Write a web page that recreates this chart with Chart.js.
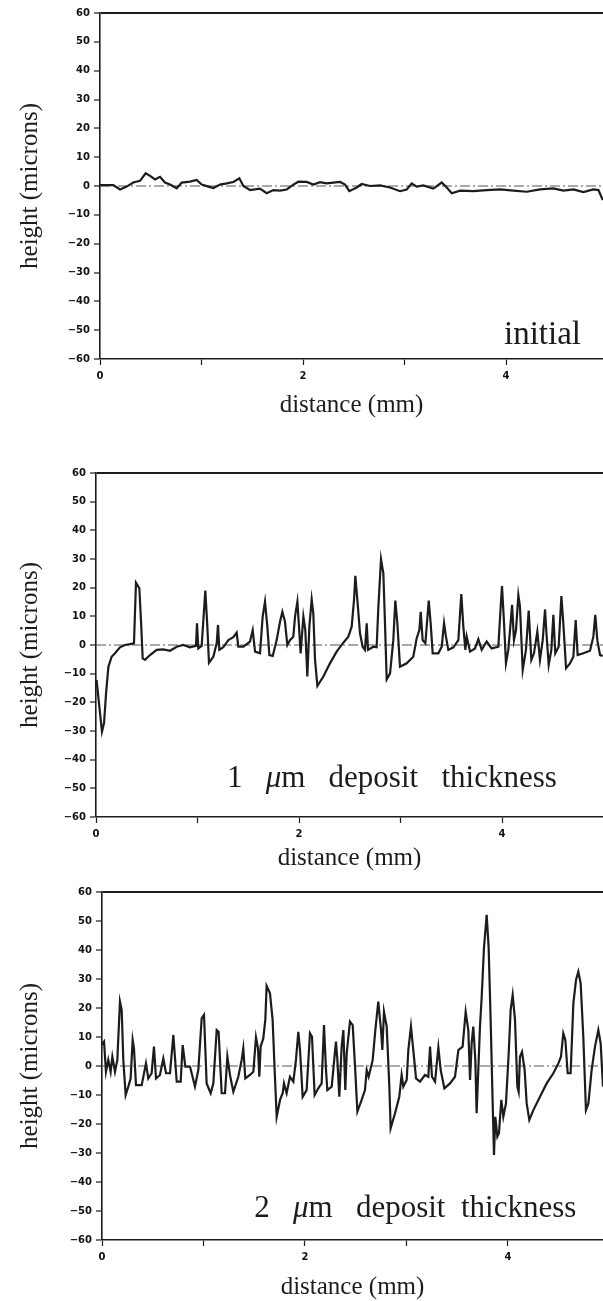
<!DOCTYPE html>
<html>
<head>
<meta charset="utf-8">
<title>Surface profiles</title>
<script src="https://cdn.jsdelivr.net/npm/chart.js@4.4.1/dist/chart.umd.min.js"></script>
<style>
  html, body { margin: 0; padding: 0; background: #fff; overflow: hidden; }
  body { width: 603px; height: 1301px; position: relative; }
  .panel { position: absolute; left: 0; width: 603px; }
</style>
</head>
<body>
<div class="panel" id="p1" style="top:0px;height:430px"><canvas id="c1" width="603" height="430"></canvas></div>
<div class="panel" id="p2" style="top:440px;height:440px"><canvas id="c2" width="603" height="440"></canvas></div>
<div class="panel" id="p3" style="top:880px;height:430px"><canvas id="c3" width="603" height="430"></canvas></div>
<script>
// profile traces, distance in mm, height in microns
const initialX = [
  0, 0.131, 0.197, 0.263, 0.328, 0.394, 0.450, 0.493, 0.542, 0.591,
  0.640, 0.690, 0.755, 0.805, 0.887, 0.952, 1.002, 1.067, 1.117, 1.182,
  1.248, 1.314, 1.373, 1.412, 1.478, 1.576, 1.642, 1.708, 1.773, 1.839,
  1.905, 1.954, 2.036, 2.102, 2.167, 2.233, 2.299, 2.365, 2.414, 2.456,
  2.529, 2.578, 2.660, 2.759, 2.857, 2.956, 3.021, 3.071, 3.120, 3.185,
  3.284, 3.366, 3.416, 3.465, 3.547, 3.678, 3.810, 3.941, 4.072, 4.204,
  4.335, 4.466, 4.565, 4.663, 4.762, 4.860, 4.910, 4.953
];
const initialY = [
  0.3, 0.3, -1.2, -0.2, 1.2, 1.8, 4.4, 3.5, 2.3, 3.2,
  1.2, 0.5, -0.8, 1.2, 1.5, 2.1, 0.5, -0.2, -0.7, 0.5,
  0.9, 1.4, 2.7, 0, -1.4, -0.9, -2.5, -1.4, -1.6, -1.2,
  0.5, 1.5, 1.4, 0.5, 1.3, 0.9, 1.2, 1.4, 0.5, -1.8,
  -0.5, 0.7, 0, 0.2, -0.5, -1.8, -1.2, 0.9, -0.2, 0.2,
  -0.9, 1.2, -0.5, -2.5, -1.6, -1.8, -1.4, -1.2, -1.6, -2.0,
  -1.2, -0.8, -1.6, -1.2, -2.1, -1.2, -1.4, -4.9
];

const oneMicronX = [
  0, 0.007, 0.033, 0.059, 0.079, 0.099, 0.122, 0.154, 0.187, 0.236,
  0.286, 0.335, 0.374, 0.394, 0.427, 0.443, 0.460, 0.483, 0.532, 0.598,
  0.663, 0.729, 0.795, 0.860, 0.926, 0.985, 0.995, 1.008, 1.041, 1.077,
  1.097, 1.113, 1.156, 1.189, 1.202, 1.215, 1.254, 1.304, 1.353, 1.386,
  1.402, 1.452, 1.517, 1.544, 1.567, 1.616, 1.642, 1.665, 1.688, 1.708,
  1.741, 1.780, 1.813, 1.836, 1.862, 1.885, 1.911, 1.944, 1.961, 1.984,
  2.000, 2.016, 2.043, 2.062, 2.082, 2.102, 2.125, 2.141, 2.158, 2.181,
  2.240, 2.305, 2.371, 2.437, 2.486, 2.519, 2.542, 2.555, 2.575, 2.601,
  2.627, 2.650, 2.667, 2.680, 2.732, 2.765, 2.782, 2.808, 2.831, 2.847,
  2.864, 2.897, 2.929, 2.949, 2.969, 2.995, 3.061, 3.126, 3.159, 3.186,
  3.199, 3.218, 3.245, 3.278, 3.297, 3.317, 3.373, 3.406, 3.429, 3.448,
  3.471, 3.521, 3.570, 3.599, 3.619, 3.639, 3.652, 3.685, 3.734, 3.767,
  3.800, 3.849, 3.898, 3.964, 3.987, 4.000, 4.020, 4.039, 4.062, 4.085,
  4.099, 4.118, 4.138, 4.161, 4.177, 4.204, 4.236, 4.263, 4.289, 4.315,
  4.348, 4.374, 4.401, 4.424, 4.440, 4.460, 4.486, 4.506, 4.525, 4.558,
  4.585, 4.604, 4.631, 4.670, 4.703, 4.726, 4.745, 4.801, 4.867, 4.900,
  4.919, 4.939, 4.966, 4.992
];
const oneMicronY = [
  -12.2, -12.8, -21.5, -30.2, -27.3, -16.9, -7.6, -4.1, -2.9, -0.8,
  0, 0.3, 0.6, 21.7, 19.8, 8.7, -4.7, -5.2, -3.5, -1.7,
  -1.5, -2.0, -0.6, 0, -0.8, -0.3, 7.6, -1.2, -0.3, 19.0,
  6.4, -6.2, -4.1, 0.6, 7.0, -1.7, -0.8, 1.7, 2.7, 4.3,
  -0.6, -0.6, 1.2, 5.2, -2.3, -2.9, 9.9, 15.1, 6.4, -3.5,
  -3.8, 1.7, 8.1, 11.6, 8.1, 0, 1.7, 2.9, 9.9, 15.1,
  6.4, -2.9, 9.9, 5.2, -11.0, 6.4, 15.9, 11.0, -5.2, -14.3,
  -11.0, -6.4, -2.3, 0.8, 2.9, 6.4, 15.7, 24.1, 15.7, 4.1,
  -0.6, -1.7, 7.6, -1.7, -0.6, -0.8, 13.4, 29.9, 25.0, 7.6,
  -12.0, -9.9, 1.7, 15.5, 7.6, -7.6, -6.4, -4.1, 2.3, 5.2,
  11.6, 1.7, 0.6, 15.5, 7.6, -2.9, -2.9, -0.6, 7.6, 2.9,
  -1.7, -0.8, 1.7, 17.8, 6.4, -1.7, 2.9, -2.3, -1.2, 2.0,
  -1.7, 1.2, -1.2, -0.6, 13.4, 20.6, 7.6, -6.4, -1.7, 7.6,
  14.0, 1.7, 5.2, 17.4, 13.4, -8.7, -1.7, 12.0, -5.2, -2.9,
  4.7, -5.2, 1.7, 12.4, 2.9, -7.0, -1.7, 10.5, -2.9, -0.6,
  17.1, 7.6, -8.1, -6.4, -4.1, 8.7, -3.5, -2.9, -2.0, 2.9,
  10.5, 1.7, -3.5, -3.8
];

const twoMicronX = [
  0, 0.007, 0.020, 0.039, 0.062, 0.085, 0.102, 0.128, 0.151, 0.177, 0.194,
  0.210, 0.233, 0.259, 0.282, 0.302, 0.315, 0.335, 0.391, 0.433, 0.456,
  0.489, 0.512, 0.532, 0.571, 0.604, 0.631, 0.670, 0.703, 0.736, 0.775,
  0.795, 0.821, 0.867, 0.916, 0.949, 0.982, 1.005, 1.031, 1.071, 1.097,
  1.130, 1.149, 1.179, 1.212, 1.235, 1.261, 1.294, 1.343, 1.376, 1.392,
  1.412, 1.458, 1.491, 1.517, 1.537, 1.550, 1.563, 1.589, 1.609, 1.622,
  1.655, 1.681, 1.701, 1.721, 1.754, 1.780, 1.793, 1.819, 1.852, 1.885,
  1.911, 1.934, 1.951, 1.977, 2.016, 2.049, 2.069, 2.095, 2.131, 2.164,
  2.187, 2.207, 2.220, 2.263, 2.305, 2.319, 2.338, 2.361, 2.378, 2.397,
  2.411, 2.443, 2.470, 2.493, 2.516, 2.558, 2.591, 2.608, 2.627, 2.667,
  2.693, 2.722, 2.749, 2.762, 2.778, 2.805, 2.831, 2.844, 2.887, 2.929,
  2.952, 2.969, 3.002, 3.018, 3.044, 3.067, 3.094, 3.133, 3.182, 3.215,
  3.232, 3.251, 3.281, 3.314, 3.337, 3.373, 3.429, 3.478, 3.511, 3.553,
  3.583, 3.609, 3.626, 3.642, 3.658, 3.678, 3.691, 3.724, 3.741, 3.764,
  3.790, 3.809, 3.829, 3.849, 3.862, 3.875, 3.895, 3.911, 3.934, 3.954,
  3.980, 4.007, 4.026, 4.046, 4.069, 4.092, 4.105, 4.118, 4.138, 4.164,
  4.184, 4.210, 4.250, 4.315, 4.381, 4.447, 4.496, 4.522, 4.545, 4.565,
  4.588, 4.617, 4.644, 4.670, 4.693, 4.716, 4.742, 4.768, 4.792, 4.824,
  4.857, 4.890, 4.913, 4.936
];
const twoMicronY = [
  7.5, 7.8, 8.4, -2.0, 2.1, -2.0, 3.2, -2.0, 2.1, 22.2, 19.3,
  2.1, -10.0, -7.1, -4.3, 9.0, 6.1, -6.6, -6.6, 0.9, -4.3,
  -2.5, 6.7, -4.3, -3.1, 2.6, -2.5, -2.5, 10.7, -5.4, -5.4,
  7.2, -0.2, -0.2, -7.1, -1.4, 16.4, 17.6, -6.0, -9.4, -6.0,
  12.4, 11.8, -9.4, -9.4, 3.2, -3.1, -8.9, -3.7, 2.1, 6.1,
  -4.3, -3.1, -2.0, 9.9, 6.1, -3.7, 6.7, 9.5, 15.9, 27.6,
  25.1, 15.9, -1.4, -17.5, -11.7, -9.4, -6.0, -9.4, -3.7, -5.4,
  2.1, 11.8, 5.5, -10.6, -8.3, 11.3, 10.1, -10.0, -7.7, -6.0,
  14.1, -1.4, -8.3, -7.1, 8.4, 2.1, -10.6, 6.7, 12.4, -8.3,
  4.4, 15.3, 14.1, -0.2, -15.7, -11.7, -8.3, -1.4, -3.7, 2.1,
  12.4, 22.2, 12.4, 5.5, 18.7, 13.6, -7.1, -21.5, -16.3, -10.6,
  -3.1, -7.1, -4.8, 5.5, 13.6, 5.5, -4.3, -5.4, -3.1, -3.7,
  6.7, -3.7, -5.4, 6.4, -1.4, -7.7, -6.0, -3.7, 5.5, 6.7,
  18.7, 12.4, -4.8, 7.8, 13.6, 2.1, -16.3, 13.6, 23.9, 41.1,
  52.1, 41.1, 15.9, -12.9, -30.7, -17.5, -24.4, -23.2, -11.7, -17.5,
  -12.9, 4.4, 19.3, 24.5, 15.9, -7.1, -8.9, 3.2, 4.9, -1.4,
  -12.9, -18.6, -15.2, -10.6, -6.0, -2.5, 0.9, 3.2, 11.3, 9.0,
  -2.5, -2.5, 21.6, 29.7, 32.5, 28.5, 10.1, -15.2, -12.9, -1.4,
  6.7, 12.4, 7.8, -7.1
];

const heightTicks = { min: -60, max: 60, step: 10 };

const INK = '#1c1c1c';
const tickFont = { family: 'DejaVu Sans', weight: 'bold', size: 10 };
const serif = 'Liberation Serif';

// in-plot caption, anchored in data coordinates; runs allow the italic mu
function captionPlugin(cap) {
  return {
    id: 'caption',
    afterDatasetsDraw(chart) {
      const { ctx, scales: { x, y } } = chart;
      let px = x.getPixelForValue(cap.x);
      const py = y.getPixelForValue(cap.y);
      ctx.save();
      ctx.fillStyle = INK;
      ctx.textBaseline = 'middle';
      cap.runs.forEach(([text, style]) => {
        ctx.font = `${style} ${cap.size}px "${serif}"`;
        ctx.fillText(text, px, py);
        px += ctx.measureText(text).width;
      });
      ctx.restore();
    }
  };
}

function makeProfile(canvasId, xs, ys, p) {
  const trace = xs.map((x, i) => ({ x, y: ys[i] }));
  return new Chart(document.getElementById(canvasId), {
    type: 'line',
    data: {
      datasets: [{
        data: trace,
        borderColor: INK,
        borderWidth: 2.2,
        pointRadius: 0,
        tension: 0,
        order: 1
      }, {
        // zero reference
        data: [{ x: 0, y: 0 }, { x: p.xMax, y: 0 }],
        borderColor: '#555',
        borderWidth: 1,
        borderDash: [10, 3, 2, 3],
        pointRadius: 0,
        order: 2
      }]
    },
    options: {
      responsive: false,
      animation: false,
      layout: { padding: { top: p.padTop, bottom: p.padBottom, left: 0, right: 0 } },
      plugins: { legend: { display: false }, tooltip: { enabled: false } },
      scales: {
        x: {
          type: 'linear',
          min: 0,
          max: p.xMax,
          afterFit: s => { s.height = p.xAxisH; },
          border: { display: true, color: INK, width: 1.6 },
          grid: { drawOnChartArea: false, drawTicks: true, tickLength: 6, tickColor: INK, tickWidth: 1.2 },
          ticks: {
            stepSize: 1,
            includeBounds: false,
            maxRotation: 0,
            padding: 5,
            color: '#111',
            font: tickFont,
            callback: v => (v % 2 === 0 ? String(v) : '')
          },
          title: {
            display: true,
            text: 'distance (mm)',
            color: INK,
            font: { family: serif, size: 25 },
            padding: { top: 0, bottom: 0 }
          }
        },
        y: {
          min: heightTicks.min,
          max: heightTicks.max,
          afterFit: s => { s.width = p.yAxisW; },
          border: { display: true, color: INK, width: 1.6 },
          grid: {
            drawTicks: true,
            tickLength: 6,
            tickColor: INK,
            tickWidth: 1.2,
            color: c => (c.tick && c.tick.value === heightTicks.max ? INK : 'rgba(0,0,0,0)'),
            lineWidth: c => (c.tick && c.tick.value === heightTicks.max ? 2 : 0)
          },
          ticks: {
            stepSize: heightTicks.step,
            padding: 4,
            color: '#111',
            font: tickFont,
            callback: v => (v < 0 ? '\u2212' + Math.abs(v) : String(v))
          },
          title: {
            display: true,
            text: 'height (microns)',
            color: INK,
            font: { family: serif, size: 25 },
            padding: { top: 15, bottom: 0 }
          }
        }
      }
    },
    plugins: [captionPlugin(p.caption)]
  });
}

makeProfile('c1', initialX, initialY, {
  xMax: 4.955, padTop: 13, padBottom: 10, xAxisH: 61, yAxisW: 100,
  caption: { x: 3.98, y: -51.7, size: 33, runs: [['initial', 'normal']] }
});

makeProfile('c2', oneMicronX, oneMicronY, {
  xMax: 4.995, padTop: 33, padBottom: 7, xAxisH: 56, yAxisW: 96,
  caption: { x: 1.29, y: -46.6, size: 31,
    runs: [['1   ', 'normal'], ['\u03bc', 'italic'], ['m   deposit   thickness', 'normal']] }
});

makeProfile('c3', twoMicronX, twoMicronY, {
  xMax: 4.936, padTop: 12, padBottom: 8, xAxisH: 62, yAxisW: 102,
  caption: { x: 1.50, y: -49.3, size: 31,
    runs: [['2   ', 'normal'], ['\u03bc', 'italic'], ['m   deposit  thickness', 'normal']] }
});
</script>
</body>
</html>
